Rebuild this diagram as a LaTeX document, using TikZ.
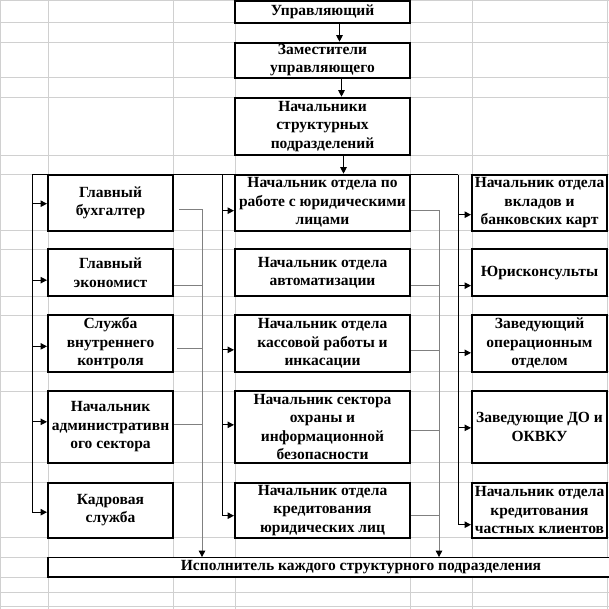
\documentclass[tikz,border=0pt]{standalone}
\usepackage{fontspec}
\setmainfont{Liberation Serif}
\usepackage{tikz}
\usetikzlibrary{calc, arrows.meta}
\definecolor{xlGrid}{RGB}{208, 208, 208}
\definecolor{xlLink}{RGB}{128, 128, 128}
\tikzset{
    base/.style={
        font=\bfseries\fontsize{15.5}{18.5}\selectfont,
        align=center
    },
    post/.style={
        base,
        rectangle,
        draw=black,
        line width=2pt,
        fill=white,
        inner xsep=0pt,
        inner ysep=0pt
    },
    leftpost/.style={post, minimum width=125pt},
    midpost/.style={post, minimum width=175pt},
    rightpost/.style={post, minimum width=135pt},
    bus/.style={
        line width=1pt,
        color=black
    },
    feed/.style={
        bus,
        -{Triangle[length=6.5pt, width=6.5pt]}
    },
    link/.style={
        line width=1pt,
        color=xlLink
    },
    sink/.style={
        link,
        -{Triangle[length=6.5pt, width=6.5pt, color=black]}
    },
    cell/.style={
        line width=0.8pt,
        color=xlGrid
    }
}

\begin{document}
\begin{tikzpicture}[x=1pt, y=-1pt]
    \useasboundingbox (0,0) rectangle (609,609);
    \clip (0,0) rectangle (609,609);

    % Sheet grid
    \foreach \x in {0.5, 48, 173, 235, 410, 472, 607}
        \draw[cell] (\x,0) -- (\x,609);
    \foreach \y in {0.5, 22.7, 42.7, 77.7, 97.7, 155, 174.7, 230.7, 249.3, 296, 315, 371.7, 391, 462.7, 482.7, 537.7, 557.3, 577, 592.5, 606.5}
        \draw[cell] (0,\y) -- (609,\y);

    % Chain of command
    \node[midpost, minimum height=21.7pt] (boss) at (322.5, 11.85) {Управляющий};
    \node[midpost, minimum height=35pt] (deputy) at (322.5, 60.2) {Заместители\\управляющего};
    \node[midpost, minimum height=57.3pt] (heads) at (322.5, 126.35) {Начальники\\структурных\\подразделений};

    % Left column
    \node[leftpost, minimum height=56pt] (acc) at (110.5, 202.7) {Главный\\бухгалтер};
    \node[leftpost, minimum height=46.7pt] (eco) at (110.5, 272.65) {Главный\\экономист};
    \node[leftpost, minimum height=56.7pt] (audit) at (110.5, 343.35) {Служба\\внутреннего\\контроля};
    \node[leftpost, minimum height=71.7pt] (admin) at (110.5, 426.85) {Начальник\\административн\\ого сектора};
    \node[leftpost, minimum height=55pt] (hr) at (110.5, 510.2) {Кадровая\\служба};

    % Middle column
    \node[midpost, minimum height=56pt] (legal) at (322.5, 202.7) {Начальник отдела по\\работе с юридическими\\лицами};
    \node[midpost, minimum height=46.7pt] (auto) at (322.5, 272.65) {Начальник отдела\\автоматизации};
    \node[midpost, minimum height=56.7pt] (cash) at (322.5, 343.35) {Начальник отдела\\кассовой работы и\\инкасации};
    \node[midpost, minimum height=71.7pt] (guard) at (322.5, 426.85) {Начальник сектора\\охраны и\\информационной\\безопасности};
    \node[midpost, minimum height=55pt] (corp) at (322.5, 510.2) {Начальник отдела\\кредитования\\юридических лиц};

    % Right column
    \node[rightpost, minimum height=56pt] (deposit) at (539.5, 202.7) {Начальник отдела\\вкладов и\\банковских карт};
    \node[rightpost, minimum height=46.7pt] (lawyer) at (539.5, 272.65) {Юрисконсульты};
    \node[rightpost, minimum height=56.7pt] (ops) at (539.5, 343.35) {Заведующий\\операционным\\отделом};
    \node[rightpost, minimum height=71.7pt] (branch) at (539.5, 426.85) {Заведующие ДО и\\ОКВКУ};
    \node[rightpost, minimum height=55pt] (retail) at (539.5, 510.2) {Начальник отдела\\кредитования\\частных клиентов};

    % Executors bar
    \node[base, fill=white, inner sep=0pt, minimum width=626pt, minimum height=19.7pt] (exec) at (361, 567.15) {Исполнитель каждого структурного подразделения};
    \draw[line width=2pt] (exec.north west) |- (exec.south east);
    \draw[bus] (exec.north west) -- (exec.north east);

    % Arrows down the chain
    \draw[feed] ($(boss.south)+(17,0)$) -- ($(deputy.north)+(17,0)$);
    \draw[feed] ($(deputy.south)+(19,0)$) -- ($(heads.north)+(19,0)$);
    \draw[feed] ($(heads.south)+(21,0)$) -- ($(legal.north)+(21,0)$);

    % Distribution buses
    \coordinate (busL) at (32, 174.7);
    \coordinate (busM) at (222, 174.7);
    \coordinate (busR) at (458, 174.7);
    \draw[bus] (busL) -- (busR);
    \draw[bus] (busL) -- ($(busL |- hr.west)+(0,2)$);
    \draw[bus] (busM) -- ($(busM |- corp.west)+(0,5.5)$);
    \draw[bus] (busR) -- ($(busR |- retail.west)+(0,14.5)$);
    \foreach \n/\d in {acc/1, eco/7.5, audit/3, admin/-5, hr/2}
        \draw[feed] ($(busL |- \n.west)+(0,\d)$) -- ($(\n.west)+(0,\d)$);
    \foreach \n/\d in {legal/8, cash/6.5, guard/-2, corp/5.5}
        \draw[feed] ($(busM |- \n.west)+(0,\d)$) -- ($(\n.west)+(0,\d)$);
    \foreach \n/\d in {deposit/12, lawyer/13, ops/9.5, branch/1, retail/14.5}
        \draw[feed] ($(busR |- \n.west)+(0,\d)$) -- ($(\n.west)+(0,\d)$);

    % Collectors to the executors
    \coordinate (outL) at (202, 0);
    \coordinate (outM) at (439, 0);
    \draw[sink] ($(acc.east)+(5,6.5)$) -| (exec.north -| outL);
    \foreach \n/\d/\g in {eco/12.5/0, audit/5.5/3, admin/-2/0}
        \draw[link] ($(\n.east)+(\g,\d)$) -- ($(outL |- \n.east)+(0,\d)$);
    \draw[sink] ($(legal.east)+(0,8)$) -| (exec.north -| outM);
    \foreach \n/\d in {auto/13, cash/7.5, guard/3.7, corp/5.5}
        \draw[link] ($(\n.east)+(0,\d)$) -- ($(outM |- \n.east)+(0,\d)$);
\end{tikzpicture}
\end{document}
